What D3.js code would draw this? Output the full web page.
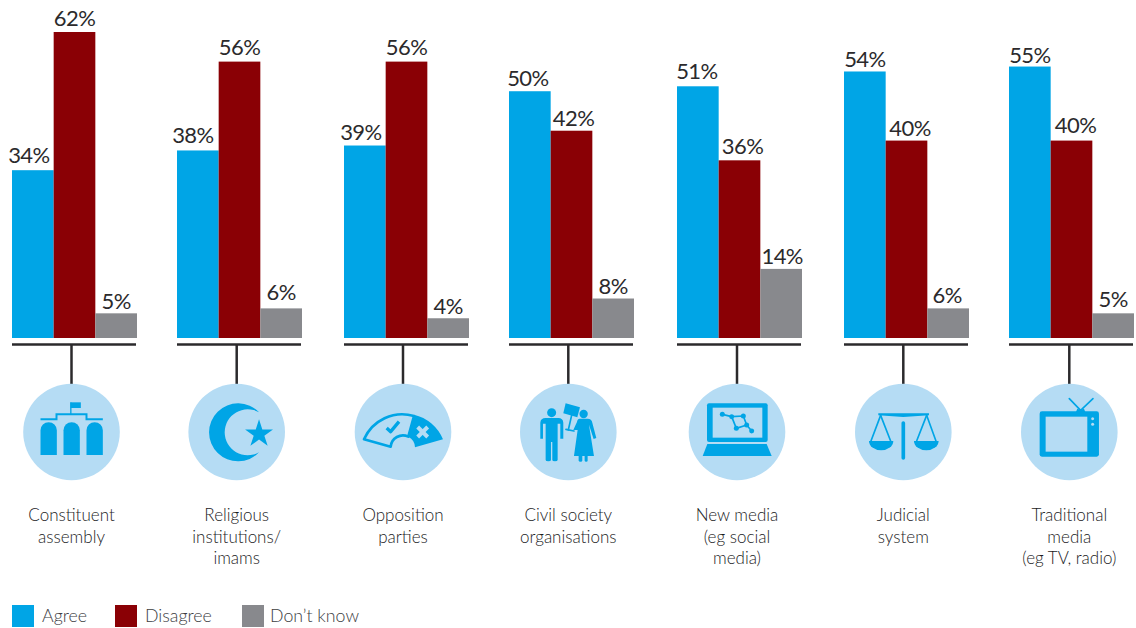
<!DOCTYPE html>
<html>
<head>
<meta charset="utf-8">
<script src="https://cdn.jsdelivr.net/npm/d3@7"></script>
<style>
  html, body { margin: 0; padding: 0; background: #fff; }
  svg { display: block; }
  text { font-family: Lato, "Open Sans", sans-serif; }
</style>
</head>
<body>
<svg id="chart" width="1136" height="628"></svg>
<script>
// Survey answers per institution, in percent
const categories = ["Constituent assembly", "Religious institutions/ imams", "Opposition parties",
  "Civil society organisations", "New media (eg social media)", "Judicial system",
  "Traditional media (eg TV, radio)"];
const categoryLines = [
  ["Constituent", "assembly"],
  ["Religious", "institutions/", "imams"],
  ["Opposition", "parties"],
  ["Civil society", "organisations"],
  ["New media", "(eg social", "media)"],
  ["Judicial", "system"],
  ["Traditional", "media", "(eg TV, radio)"]
];
const seriesNames = ["Agree", "Disagree", "Don\u2019t know"];
const agree = [34, 38, 39, 50, 51, 54, 55];
const disagree = [62, 56, 56, 42, 36, 40, 40];
const dontKnow = [5, 6, 4, 8, 14, 6, 5];
const seriesValues = [agree, disagree, dontKnow];

// Hand placement of the value labels relative to their bars
const labelShiftX = [
  [-4, -5, -4, -2, -1, 0, 0],
  [0, 0, 0, 2, 3, 3.5, 4],
  [0, 0, 0, 0, 1, -1, 0]
];
const labelGap = [
  [6.7, 7, 6, 5, 7, 4.5, 3.7],
  [6, 6.7, 6.7, 5, 6, 4.3, 7.3],
  [4.7, 8, 4.7, 5, 5, 5, 6]
];

const BLUE = "#00a5e6", RED = "#8a0005", GREY = "#88898d";
const PALE = "#b5dcf4", INK = "#2b2a2c", LABEL = "#1c1c1e", MUTED = "#3c3d3f";
const BASE_Y = 338, TOP_Y = 32, GROUP_W = 125;

const svg = d3.select("#chart");

const x0 = d3.scaleOrdinal().domain(categories).range([12, 177, 344, 509, 677, 844, 1009]);
const x1 = d3.scaleBand().domain(seriesNames).range([0, GROUP_W]);
const y = d3.scaleLinear().domain([0, 62]).range([BASE_Y, TOP_Y]);
const colour = d3.scaleOrdinal().domain(seriesNames).range([BLUE, RED, GREY]);
const iconX = d3.scaleOrdinal().domain(categories).range([71.5, 236.7, 403, 568.3, 737, 903.3, 1069.3]);
const ICON_Y = 432, ICON_R = 48.3;

// Bars and value labels
const groups = svg.selectAll("g.group").data(categories).join("g")
  .attr("class", "group")
  .attr("transform", d => `translate(${x0(d)},0)`);

seriesNames.forEach((name, s) => {
  groups.append("rect")
    .attr("x", x1(name))
    .attr("width", x1.bandwidth())
    .attr("y", (d, i) => y(seriesValues[s][i]))
    .attr("height", (d, i) => BASE_Y - y(seriesValues[s][i]))
    .attr("fill", colour(name));
  groups.append("text")
    .attr("x", (d, i) => x1(name) + x1.bandwidth() / 2 + labelShiftX[s][i])
    .attr("y", (d, i) => y(seriesValues[s][i]) - labelGap[s][i])
    .attr("text-anchor", "middle")
    .attr("font-size", 22)
    .attr("letter-spacing", -0.6)
    .attr("fill", INK)
    .text((d, i) => seriesValues[s][i] + "%");
});

// Rule under each group with a stem down to its icon
groups.append("line")
  .attr("x1", 0).attr("x2", 124).attr("y1", 344.5).attr("y2", 344.5)
  .attr("stroke", INK).attr("stroke-width", 2.5);
svg.selectAll("line.stem").data(categories).join("line")
  .attr("class", "stem")
  .attr("x1", d => iconX(d)).attr("x2", d => iconX(d))
  .attr("y1", 345).attr("y2", 386)
  .attr("stroke", INK).attr("stroke-width", 2.5);

// Icon badges: each glyph is drawn at triple size around its own origin
const line = d3.line();
function poly(g, pts, width, col) {
  return g.append("path").attr("d", line(pts)).attr("fill", "none")
    .attr("stroke", col || BLUE).attr("stroke-width", width)
    .attr("stroke-linecap", "round").attr("stroke-linejoin", "round");
}
function shape(g, d, col) { return g.append("path").attr("d", d).attr("fill", col || BLUE); }
function dot(g, cx, cy, r, col) {
  return g.append("circle").attr("cx", cx).attr("cy", cy).attr("r", r).attr("fill", col || BLUE);
}
function box(g, x, y, w, h, r, col) {
  return g.append("rect").attr("x", x).attr("y", y).attr("width", w).attr("height", h)
    .attr("rx", r).attr("fill", col || BLUE);
}

const glyphs = [
  // Assembly building
  g => {
    [-93, -24, 45].forEach(l => shape(g, `M${l},69 V-5 A24.5,24.5 0 0 1 ${l + 49},-5 V69 Z`));
    g.append("path").attr("d", "M-93,-38 H-45 V-53 H45 V-38 H94").attr("fill", "none")
      .attr("stroke", BLUE).attr("stroke-width", 6);
    g.append("rect").attr("x", -4).attr("y", -89).attr("width", 4).attr("height", 38).attr("fill", BLUE);
    g.append("rect").attr("x", -3).attr("y", -89).attr("width", 31).attr("height", 17).attr("fill", BLUE);
  },
  // Crescent and star
  g => {
    shape(g, "M67,-59 A87,87 0 1 0 67,61 A69,69 0 1 1 67,-59 Z");
    g.append("path").attr("d", d3.symbol(d3.symbolStar, 2175)())
      .attr("transform", "translate(67,6)").attr("fill", BLUE);
  },
  // Fan-shaped ballot: tick on the open side, cross on the filled side
  g => {
    g.append("path").attr("d", "M-117,22 A125,125 0 0 1 33,-48 L16,14 A37,37 0 0 0 -37,44 Z")
      .attr("fill", "none").attr("stroke", BLUE).attr("stroke-width", 8).attr("stroke-linejoin", "round");
    shape(g, "M33,-52 A125,125 0 0 1 120,22 L36,46 A37,37 0 0 0 16,14 Z");
    poly(g, [[-49, -12], [-37, -1], [-12, -31]], 10, BLUE).attr("stroke-linecap", "butt");
    poly(g, [[44, -15], [74, 15]], 12, PALE).attr("stroke-linecap", "butt");
    poly(g, [[74, -15], [44, 15]], 12, PALE).attr("stroke-linecap", "butt");
  },
  // Two figures holding a placard
  g => {
    dot(g, -50, -58, 13.5);
    shape(g, "M-68,-42 H-30 Q-16,-42 -15,-28 V20 H-24 V-25 H-32 V84 Q-32,88 -40,88 Q-48,88 -48,84 V30 H-52 V84 Q-52,88 -60,88 Q-68,88 -68,84 V-25 H-76 V20 H-84 V-28 Q-83,-42 -68,-42 Z");
    dot(g, 46, -54, 12.5);
    shape(g, "M34,-40 H58 Q70,-40 72,-28 L84,18 L76,21 L62,-22 L77,72 H58 V86 Q58,89 54,89 Q49,89 49,86 V72 H42 V86 Q42,89 37,89 Q31,89 31,86 V72 H17 L28,-6 L15,-6 L26,-30 Q28,-40 34,-40 Z");
    shape(g, "M-8,-86 L35,-74 L27,-44 L-15,-56 Z");
    poly(g, [[10, -50], [0, -6]], 5);
    poly(g, [[-7, -8], [17, -3]], 5);
  },
  // Laptop showing a network graph
  g => {
    box(g, -90, -86, 182, 116, 6);
    box(g, -73, -73, 149, 90, 0, PALE);
    shape(g, "M-89,36 H89 L104,72 H-103 Z");
    const nodes = [[-44, -53], [-16, -46], [19, -48], [29, -21], [-2, -11], [44, -3]];
    poly(g, [nodes[0], nodes[1], nodes[2], nodes[3], nodes[4], nodes[1]], 5);
    poly(g, [nodes[3], nodes[5]], 5);
    nodes.forEach(n => dot(g, n[0], n[1], 7.5));
  },
  // Scales of justice
  g => {
    shape(g, "M-75,-56 H77 V-50 L0,-45 L-75,-50 Z");
    poly(g, [[0, -27], [0, 78]], 11);
    poly(g, [[-68, -50], [-97, 27]], 5);
    poly(g, [[-68, -50], [-38, 27]], 5);
    poly(g, [[70, -50], [40, 27]], 5);
    poly(g, [[70, -50], [98, 27]], 5);
    shape(g, "M-103,27 H-30 A36.5,28 0 0 1 -103,27 Z");
    shape(g, "M32,27 H106 A37,28 0 0 1 32,27 Z");
  },
  // Television with aerial
  g => {
    poly(g, [[0, -100], [34, -65], [71, -100]], 5);
    shape(g, "M24,-70 L34,-66 L44,-70 L48,-60 H20 Z");
    box(g, -89, -62, 178, 136, 7);
    box(g, -71, -46, 125, 105, 0, PALE);
    dot(g, 70, -40, 4.5, PALE);
    dot(g, 70, -23, 4.5, PALE);
  }
];

const badges = svg.selectAll("g.badge").data(categories).join("g")
  .attr("class", "badge")
  .attr("transform", d => `translate(${iconX(d)},${ICON_Y})`);
badges.append("circle").attr("r", ICON_R).attr("fill", PALE);
badges.append("g").attr("transform", "scale(0.3333)")
  .each(function (d, i) { glyphs[i](d3.select(this)); });

// Category names under the badges
badges.append("text")
  .attr("text-anchor", "middle")
  .attr("font-size", 17)
  .attr("font-weight", 300)
  .attr("fill", LABEL)
  .each(function (d, i) {
    d3.select(this).selectAll("tspan").data(categoryLines[i]).join("tspan")
      .attr("x", 0)
      .attr("y", (t, k) => 89 + k * 21.6)
      .text(t => t);
  });

// Legend
const legendX = d3.scaleOrdinal().domain(seriesNames).range([12, 115, 242]);
const legend = svg.selectAll("g.key").data(seriesNames).join("g")
  .attr("class", "key")
  .attr("transform", d => `translate(${legendX(d)},605)`);
legend.append("rect").attr("width", 22).attr("height", 22).attr("fill", d => colour(d));
legend.append("text")
  .attr("x", d => d === seriesNames[2] ? 28 : 30)
  .attr("y", 17)
  .attr("font-size", 17.8)
  .attr("font-weight", 300)
  .attr("fill", MUTED)
  .text(d => d);
</script>
</body>
</html>
